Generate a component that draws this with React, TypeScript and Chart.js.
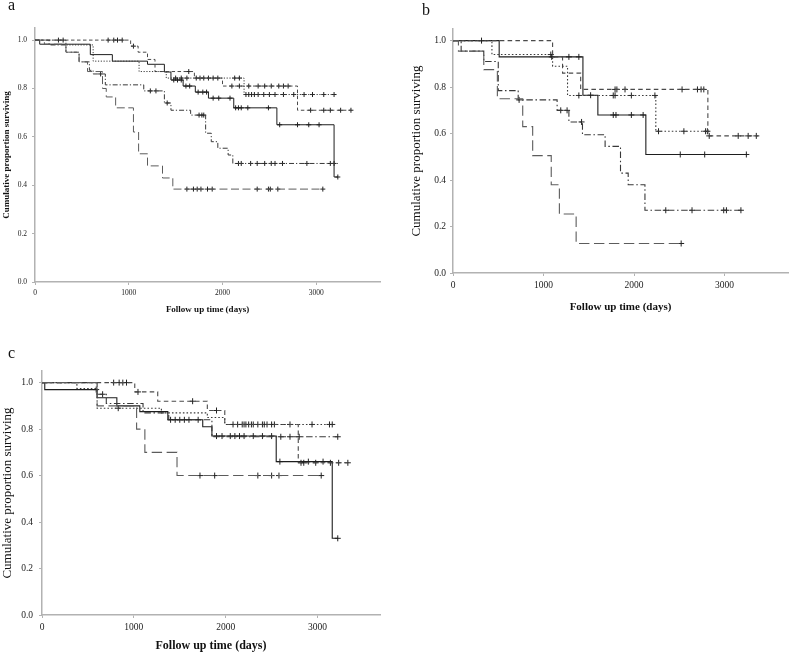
import React, { useEffect, useRef } from "react";
import { Chart, registerables } from "chart.js";

Chart.register(...registerables);

const SERIF = "'Liberation Serif', 'Times New Roman', Times, serif";
const AXIS = "#b2b2b2";

const xTicks = [0, 1000, 2000, 3000];
const yTicks = [0, 0.2, 0.4, 0.6, 0.8, 1.0];
const yTickLabels = ["0.0", "0.2", "0.4", "0.6", "0.8", "1.0"];
const xTitle = "Follow up time (days)";
const yTitle = "Cumulative proportion surviving";

// ---------------- Panel a ----------------
const aSolidTimes = [0, 50, 590, 825, 1200, 1380, 1450, 1580, 1710, 1850, 2120, 2580, 3190];
const aSolidSurv = [1.0, 0.983, 0.94, 0.913, 0.9, 0.868, 0.835, 0.81, 0.785, 0.76, 0.72, 0.65, 0.434];
const aSolidEnd = 3230;
const aSolidCens = [1480, 1520, 1560, 1610, 1650, 1740, 1790, 1830, 1900, 1960, 2080, 2140, 2170, 2200, 2270, 2490, 2610, 2800, 2920, 3030, 3230];

const aDashTimes = [0, 1020, 1100, 1200, 1280, 1700, 2000, 2800];
const aDashSurv = [1.0, 0.975, 0.95, 0.92, 0.87, 0.843, 0.81, 0.71];
const aDashEnd = 3370;
const aDashCens = [250, 300, 780, 840, 880, 930, 1050, 1640, 1720, 1760, 1800, 1850, 1900, 1950, 2100, 2180, 2280, 2380, 2450, 2520, 2600, 2650, 2700, 2940, 3080, 3150, 3260, 3370];

const aDotTimes = [0, 330, 620, 1110, 1400, 2230];
const aDotSurv = [1.0, 0.98, 0.913, 0.87, 0.843, 0.775];
const aDotEnd = 3190;
const aDotCens = [1500, 1560, 1620, 2130, 2180, 2250, 2280, 2310, 2340, 2380, 2440, 2500, 2560, 2650, 2760, 2870, 2960, 3080, 3190];

const aDashDotTimes = [0, 150, 330, 470, 580, 620, 750, 1160, 1380, 1450, 1660, 1820, 1880, 1950, 2060, 2110];
const aDashDotSurv = [1.0, 0.98, 0.95, 0.91, 0.875, 0.86, 0.815, 0.79, 0.74, 0.71, 0.69, 0.615, 0.58, 0.553, 0.525, 0.49];
const aDashDotEnd = 3230;
const aDashDotCens = [700, 1230, 1290, 1410, 1750, 1780, 1800, 2170, 2200, 2300, 2370, 2450, 2520, 2560, 2640, 2900, 3150, 3190];

const aLongTimes = [0, 100, 330, 470, 560, 720, 760, 860, 1050, 1105, 1200, 1360, 1470];
const aLongSurv = [1.0, 0.983, 0.95, 0.91, 0.87, 0.8, 0.765, 0.72, 0.62, 0.53, 0.48, 0.43, 0.384];
const aLongEnd = 3070;
const aLongCens = [1620, 1690, 1730, 1770, 1840, 1890, 2370, 2490, 2510, 2590, 3070];

// ---------------- Panel b ----------------
const bSolidTimes = [0, 510, 1435, 1600, 2130];
const bSolidSurv = [1.0, 0.93, 0.765, 0.68, 0.51];
const bSolidEnd = 3240;
const bSolidCens = [315, 1090, 1280, 1390, 1520, 1770, 1800, 1970, 2100, 2510, 2780, 3240];

const bDashTimes = [0, 1100, 1210, 1410, 2815];
const bDashSurv = [1.0, 0.93, 0.86, 0.79, 0.59];
const bDashEnd = 3370;
const bDashCens = [1790, 1810, 1900, 2530, 2700, 2740, 2770, 2830, 3150, 3260, 3350];

const bDotTimes = [0, 430, 1100, 1265, 2240];
const bDotSurv = [1.0, 0.94, 0.89, 0.764, 0.61];
const bDotEnd = 2830;
const bDotCens = [1080, 1390, 1770, 1790, 1970, 2230, 2270, 2550, 2790, 2810];

const bDashDotTimes = [0, 90, 340, 500, 720, 1150, 1280, 1430, 1680, 1850, 1935, 2120];
const bDashDotSurv = [1.0, 0.955, 0.91, 0.785, 0.745, 0.7, 0.65, 0.595, 0.545, 0.43, 0.38, 0.27];
const bDashDotEnd = 3180;
const bDashDotCens = [730, 1190, 1260, 1420, 2350, 2640, 2990, 3020, 3180];

const bLongTimes = [0, 60, 340, 490, 770, 880, 1085, 1175, 1360];
const bLongSurv = [1.0, 0.955, 0.875, 0.75, 0.63, 0.505, 0.38, 0.254, 0.127];
const bLongEnd = 2520;
const bLongCens = [2520];

// ---------------- Panel c ----------------
const cSolidTimes = [0, 30, 600, 815, 1065, 1370, 1750, 1850, 2550, 3160];
const cSolidSurv = [1.0, 0.97, 0.935, 0.9, 0.875, 0.84, 0.81, 0.77, 0.66, 0.33];
const cSolidEnd = 3220;
const cSolidCens = [590, 1700, 1900, 1960, 2050, 2100, 2150, 2200, 2300, 2400, 2500, 2590, 2900, 3060, 3220];

const cDashTimes = [0, 1010, 1260, 1800, 1990, 2790];
const cDashSurv = [1.0, 0.96, 0.92, 0.88, 0.82, 0.655];
const cDashEnd = 3330;
const cDashCens = [780, 840, 880, 920, 1045, 1640, 1900, 2820, 2850, 2980, 3140, 3230, 3330];

const cDotTimes = [0, 380, 600, 1300, 1800, 1990];
const cDotSurv = [1.0, 0.975, 0.89, 0.87, 0.85, 0.82];
const cDotEnd = 3160;
const cDotCens = [830, 2080, 2130, 2180, 2200, 2220, 2250, 2280, 2300, 2350, 2400, 2420, 2450, 2500, 2530, 2700, 2940, 3130, 3160];

const cDashDotTimes = [0, 600, 700, 1100, 1380, 1850];
const cDashDotSurv = [1.0, 0.95, 0.91, 0.87, 0.84, 0.767];
const cDashDotEnd = 3220;
const cDashDotCens = [660, 1400, 1450, 1500, 1550, 1600, 2600, 2700, 2800, 3220];

const cLongTimes = [0, 600, 1030, 1120, 1470];
const cLongSurv = [1.0, 0.9, 0.8, 0.7, 0.6];
const cLongEnd = 3040;
const cLongCens = [1720, 1880, 2350, 2500, 2580, 3040];

type StyleKey = "solid" | "dash" | "dot" | "dashDot" | "longDash";
const STYLES: Record<StyleKey, { color: string; dash: number[] }> = {
  solid: { color: "#1e1e1e", dash: [] },
  dash: { color: "#4a4a4a", dash: [3.5, 2.5] },
  dot: { color: "#3a3a3a", dash: [1.2, 1.6] },
  dashDot: { color: "#383838", dash: [5, 2, 1.2, 2] },
  longDash: { color: "#5c5c5c", dash: [8, 3.5] },
};

type Series = { times: number[]; surv: number[]; end: number; cens: number[]; style: StyleKey };

const panelA: Series[] = [
  { times: aLongTimes, surv: aLongSurv, end: aLongEnd, cens: aLongCens, style: "longDash" },
  { times: aDashDotTimes, surv: aDashDotSurv, end: aDashDotEnd, cens: aDashDotCens, style: "dashDot" },
  { times: aDotTimes, surv: aDotSurv, end: aDotEnd, cens: aDotCens, style: "dot" },
  { times: aDashTimes, surv: aDashSurv, end: aDashEnd, cens: aDashCens, style: "dash" },
  { times: aSolidTimes, surv: aSolidSurv, end: aSolidEnd, cens: aSolidCens, style: "solid" },
];
const panelB: Series[] = [
  { times: bLongTimes, surv: bLongSurv, end: bLongEnd, cens: bLongCens, style: "longDash" },
  { times: bDashDotTimes, surv: bDashDotSurv, end: bDashDotEnd, cens: bDashDotCens, style: "dashDot" },
  { times: bDotTimes, surv: bDotSurv, end: bDotEnd, cens: bDotCens, style: "dot" },
  { times: bDashTimes, surv: bDashSurv, end: bDashEnd, cens: bDashCens, style: "dash" },
  { times: bSolidTimes, surv: bSolidSurv, end: bSolidEnd, cens: bSolidCens, style: "solid" },
];
const panelC: Series[] = [
  { times: cLongTimes, surv: cLongSurv, end: cLongEnd, cens: cLongCens, style: "longDash" },
  { times: cDashDotTimes, surv: cDashDotSurv, end: cDashDotEnd, cens: cDashDotCens, style: "dashDot" },
  { times: cDotTimes, surv: cDotSurv, end: cDotEnd, cens: cDotCens, style: "dot" },
  { times: cDashTimes, surv: cDashSurv, end: cDashEnd, cens: cDashCens, style: "dash" },
  { times: cSolidTimes, surv: cSolidSurv, end: cSolidEnd, cens: cSolidCens, style: "solid" },
];

function levelAt(times: number[], surv: number[], t: number) {
  let v = surv[0];
  for (let i = 0; i < times.length; i++) if (times[i] <= t) v = surv[i];
  return v;
}

type PanelProps = {
  series: Series[];
  left: number; top: number; w: number; h: number;
  padTop: number; padRight: number; yAxisW: number; xAxisH: number;
  xMax: number; tickSize: number; xTitleSize: number; yTitleSize: number;
  yTitleWeight: string; xTitlePad: number; yTitlePad: number;
  yTickPad: number; xTickPad: number; dashScale: number; crossR: number; lineW: number;
};

function buildConfig(p: PanelProps): any {
  const datasets: any[] = [];
  p.series.forEach((s) => {
    const st = STYLES[s.style];
    const pts = s.times.map((t, i) => ({ x: t, y: s.surv[i] }));
    pts.push({ x: s.end, y: s.surv[s.surv.length - 1] });
    datasets.push({
      data: pts,
      stepped: "before",
      borderColor: st.color,
      borderWidth: p.lineW,
      borderDash: st.dash.map((d) => d * p.dashScale),
      pointRadius: 0,
      fill: false,
      tension: 0,
    });
  });
  p.series.forEach((s) => {
    datasets.push({
      data: s.cens.map((c) => ({ x: c, y: levelAt(s.times, s.surv, c) })),
      showLine: false,
      pointStyle: "cross",
      pointRadius: p.crossR,
      pointBorderColor: "#222",
      pointBorderWidth: 1,
      pointBackgroundColor: "rgba(0,0,0,0)",
      borderColor: "#222",
    });
  });
  return {
    type: "line",
    data: { datasets },
    options: {
      animation: false,
      responsive: false,
      maintainAspectRatio: false,
      devicePixelRatio: 1,
      layout: { padding: { top: p.padTop, right: p.padRight, left: 0, bottom: 0 } },
      plugins: { legend: { display: false }, tooltip: { enabled: false } },
      scales: {
        x: {
          type: "linear",
          min: 0,
          max: p.xMax,
          afterBuildTicks: (s: any) => { s.ticks = xTicks.map((v) => ({ value: v })); },
          afterFit: (s: any) => { s.height = p.xAxisH; },
          grid: { display: true, drawOnChartArea: false, drawTicks: true, tickLength: 3, tickColor: AXIS, tickWidth: 1 },
          border: { display: true, color: AXIS, width: 1.5 },
          ticks: {
            color: "#222",
            font: { family: SERIF, size: p.tickSize },
            padding: p.xTickPad,
            maxRotation: 0,
            autoSkip: false,
            callback: (v: number) => String(v),
          },
          title: {
            display: true,
            text: xTitle,
            color: "#111",
            font: { family: SERIF, size: p.xTitleSize, weight: "bold" },
            padding: { top: 0, bottom: p.xTitlePad },
          },
        },
        y: {
          type: "linear",
          min: 0,
          max: 1.05,
          afterBuildTicks: (s: any) => { s.ticks = yTicks.map((v) => ({ value: v })); },
          afterFit: (s: any) => { s.width = p.yAxisW; },
          grid: { display: true, drawOnChartArea: false, drawTicks: true, tickLength: 3, tickColor: AXIS, tickWidth: 1 },
          border: { display: true, color: AXIS, width: 1.5 },
          ticks: {
            color: "#222",
            font: { family: SERIF, size: p.tickSize },
            padding: p.yTickPad,
            autoSkip: false,
            callback: (_v: number, i: number) => yTickLabels[i],
          },
          title: {
            display: true,
            text: yTitle,
            color: "#111",
            font: { family: SERIF, size: p.yTitleSize, weight: p.yTitleWeight },
            padding: { top: p.yTitlePad, bottom: 0 },
          },
        },
      },
    },
  };
}

function Panel(p: PanelProps) {
  const ref = useRef<HTMLCanvasElement>(null);
  useEffect(() => {
    const chart = new Chart(ref.current as HTMLCanvasElement, buildConfig(p));
    return () => chart.destroy();
  }, []);
  return (
    <canvas
      ref={ref}
      width={p.w}
      height={p.h}
      style={{ position: "absolute", left: p.left, top: p.top, width: p.w, height: p.h }}
    />
  );
}

const labelStyle = (left: number, top: number): React.CSSProperties => ({
  position: "absolute",
  left,
  top,
  fontFamily: SERIF,
  fontSize: 16,
  lineHeight: "16px",
  color: "#111",
});

export default function App() {
  return (
    <div style={{ position: "fixed", left: 0, top: 0, width: 793, height: 656, background: "#fff", overflow: "hidden" }}>
      <Panel
        series={panelA}
        left={0} top={0} w={390} h={320}
        padTop={28} padRight={10} yAxisW={35} xAxisH={38}
        xMax={3680} tickSize={7.5} xTitleSize={9} yTitleSize={9} yTitleWeight="bold"
        xTitlePad={4.5} yTitlePad={1} yTickPad={5} xTickPad={4}
        dashScale={1} crossR={2.5} lineW={1}
      />
      <Panel
        series={panelB}
        left={400} top={0} w={393} h={320}
        padTop={29} padRight={1} yAxisW={53} xAxisH={47}
        xMax={3700} tickSize={9.5} xTitleSize={11} yTitleSize={13} yTitleWeight="normal"
        xTitlePad={6} yTitlePad={9} yTickPad={4} xTickPad={4}
        dashScale={1.3} crossR={3} lineW={1.1}
      />
      <Panel
        series={panelC}
        left={0} top={330} w={390} h={326}
        padTop={41} padRight={10} yAxisW={42} xAxisH={41}
        xMax={3680} tickSize={9.5} xTitleSize={12} yTitleSize={13} yTitleWeight="normal"
        xTitlePad={3} yTitlePad={0} yTickPad={6} xTickPad={4}
        dashScale={1.3} crossR={3} lineW={1.1}
      />
      <div style={labelStyle(8, -3)}>a</div>
      <div style={labelStyle(422, 2)}>b</div>
      <div style={labelStyle(8, 345)}>c</div>
    </div>
  );
}
